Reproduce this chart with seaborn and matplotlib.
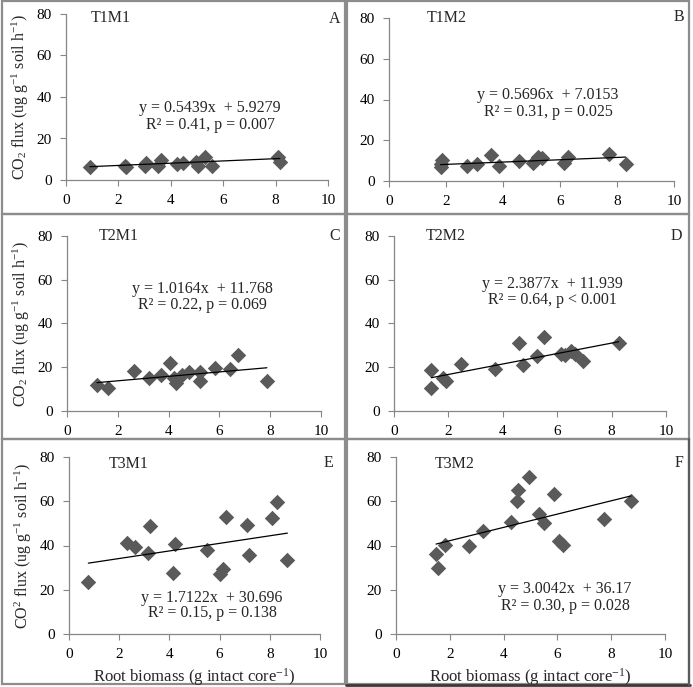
import matplotlib
matplotlib.use("Agg")
import matplotlib.pyplot as plt
import seaborn as sns
import numpy as np
import pandas as pd
from matplotlib.patches import Rectangle
from matplotlib.lines import Line2D

# ---------------- data ----------------
panel_ids = ["A", "B", "C", "D", "E", "F"]
panel_titles = ["T1M1", "T1M2", "T2M1", "T2M2", "T3M1", "T3M2"]

x_A = [0.91, 2.25, 2.30, 3.01, 3.07, 3.52, 3.62, 4.22, 4.47, 4.98, 5.04, 5.30, 5.59, 8.09, 8.16]
y_A = [6.4, 6.9, 6.5, 6.9, 8.0, 6.9, 9.4, 7.7, 8.4, 8.9, 6.9, 11.0, 6.9, 11.0, 8.9]

x_B = [1.81, 1.85, 1.81, 2.75, 3.10, 3.57, 3.86, 4.56, 5.05, 5.24, 5.38, 6.14, 6.29, 7.72, 8.30]
y_B = [8.4, 10.3, 7.0, 7.5, 8.4, 12.8, 7.5, 10.0, 8.7, 12.0, 11.1, 8.7, 11.6, 13.3, 8.4]

x_C = [1.18, 1.61, 2.62, 3.22, 3.71, 4.07, 4.20, 4.30, 4.53, 4.79, 5.25, 5.25, 5.84, 6.40, 6.72, 7.87]
y_C = [11.9, 10.4, 18.5, 15.0, 16.5, 21.9, 15.0, 12.7, 16.5, 17.7, 18.0, 13.5, 19.6, 19.3, 25.7, 13.9]

x_D = [1.37, 1.37, 1.80, 1.92, 2.47, 3.70, 4.61, 4.74, 5.25, 5.53, 6.14, 6.27, 6.51, 6.67, 6.94, 8.26]
y_D = [18.6, 10.4, 14.9, 13.7, 21.3, 19.1, 31.3, 20.9, 25.2, 33.8, 26.2, 25.5, 27.4, 26.2, 22.9, 31.3]

x_E = [0.77, 2.30, 2.63, 3.16, 3.23, 4.16, 4.22, 5.51, 6.02, 6.15, 6.24, 7.08, 7.18, 8.07, 8.27, 8.70]
y_E = [23.6, 41.1, 39.1, 36.5, 48.9, 27.7, 40.6, 38.0, 27.0, 29.2, 52.7, 49.2, 35.6, 52.3, 59.8, 33.5]

x_F = [1.49, 1.55, 1.83, 2.70, 3.25, 4.27, 4.48, 4.52, 4.93, 5.32, 5.51, 5.88, 6.06, 6.19, 7.74, 8.73]
y_F = [36.0, 29.9, 40.4, 39.8, 46.6, 50.8, 60.2, 65.2, 70.9, 54.1, 50.3, 63.3, 41.9, 40.4, 51.8, 60.2]

slopes = [0.5439, 0.5696, 1.0164, 2.3877, 1.7122, 3.0042]
intercepts = [5.9279, 7.0153, 11.768, 11.939, 30.696, 36.17]
eq_lines = ["y = 0.5439x  + 5.9279", "y = 0.5696x  + 7.0153", "y = 1.0164x  + 11.768",
            "y = 2.3877x  + 11.939", "y = 1.7122x  + 30.696", "y = 3.0042x  + 36.17"]
stat_lines = ["R\u00b2 = 0.41, p = 0.007", "R\u00b2 = 0.31, p = 0.025", "R\u00b2 = 0.22, p = 0.069",
              "R\u00b2 = 0.64, p < 0.001", "R\u00b2 = 0.15, p = 0.138", "R\u00b2 = 0.30, p = 0.028"]

xs = [x_A, x_B, x_C, x_D, x_E, x_F]
ys = [y_A, y_B, y_C, y_D, y_E, y_F]

x_ticks = [0, 2, 4, 6, 8, 10]
y_ticks = [0, 20, 40, 60, 80]

ylabel_12 = "CO$_2$ flux (ug g$^{-1}$ soil h$^{-1}$)"
ylabel_3 = "CO$^2$ flux (ug g$^{-1}$ soil h$^{-1}$)"
xlabel = "Root biomass (g intact core$^{-1}$)"

# ---------------- layout (pixels) ----------------
W, H = 693, 687
ax_px = [(66, 14, 328, 180), (389, 18, 674, 181),
         (67, 236, 321, 411), (394, 236, 666, 411),
         (69, 457, 320, 634), (396, 457, 665, 634)]
frame_px = [(2, 1, 345, 214), (347, 1, 689, 214),
            (2, 214, 345, 439), (347, 214, 689, 439),
            (2, 439, 345, 684), (347, 439, 689, 684)]
title_px = [(111, 18), (447, 18), (119, 236), (446, 236), (129, 464), (455, 464)]
letter_px = [(335, 19), (679, 17), (335, 236), (676, 236), (328, 463), (679, 463)]
eq_px = [(210, 108, 125), (548, 95, 112), (202, 289, 305), (552, 284, 300),
         (212, 598, 613), (565, 589, 606)]

sns.set_theme(style="white")
plt.rcParams["font.family"] = ["Liberation Serif", "DejaVu Serif"]
plt.rcParams["mathtext.fontset"] = "custom"
plt.rcParams["mathtext.rm"] = "Liberation Serif"
plt.rcParams["mathtext.it"] = "Liberation Serif:italic"

fig = plt.figure(figsize=(W / 100, H / 100), dpi=100)
fig.patch.set_facecolor("white")

def fx(px):
    return px / W

def fy(py):
    return 1 - py / H

spine_col = "#868686"
marker_col = "#5a5a5a"
fs = 11.5

for i in range(6):
    l, t, r, b = frame_px[i]
    fig.add_artist(Rectangle((fx(l), fy(b)), fx(r) - fx(l), fy(t) - fy(b),
                             transform=fig.transFigure, fill=False,
                             edgecolor="#8c8c8c", linewidth=1.6, zorder=0))

    l, t, r, b = ax_px[i]
    ax = fig.add_axes([fx(l), fy(b), fx(r) - fx(l), fy(t) - fy(b)])
    df = pd.DataFrame({"x": xs[i], "y": ys[i]})
    sns.scatterplot(data=df, x="x", y="y", ax=ax, marker="D", s=62,
                    color=marker_col, edgecolor=marker_col, linewidth=0, zorder=3)
    xl = np.array([min(xs[i]), max(xs[i])])
    line_df = pd.DataFrame({"x": xl, "y": slopes[i] * xl + intercepts[i]})
    sns.lineplot(data=line_df, x="x", y="y", ax=ax, color="black", linewidth=0.9, zorder=4)

    ax.set_xlim(0, 10)
    ax.set_ylim(0, 80)
    ax.set_xticks(x_ticks)
    ax.set_yticks(y_ticks)
    ax.tick_params(axis="both", which="both", direction="out", length=4, width=0.8,
                   color=spine_col, labelsize=11, labelcolor="black", pad=6, left=True, bottom=True)
    for s in ["top", "right"]:
        ax.spines[s].set_visible(False)
    for s in ["left", "bottom"]:
        ax.spines[s].set_color(spine_col)
        ax.spines[s].set_linewidth(0.9)
    ax.set_facecolor("none")

    if i in (0, 2):
        ax.set_ylabel(ylabel_12, fontsize=11.5, labelpad=4)
    elif i == 4:
        ax.set_ylabel(ylabel_3, fontsize=11.5, labelpad=4)
    else:
        ax.set_ylabel("")
    if i in (4, 5):
        ax.set_xlabel(xlabel, fontsize=12, labelpad=4)
    else:
        ax.set_xlabel("")

    tx, ty = title_px[i]
    fig.text(fx(tx), fy(ty), panel_titles[i], fontsize=11.5, ha="center", va="center")
    lx, ly = letter_px[i]
    fig.text(fx(lx), fy(ly), panel_ids[i], fontsize=11.5, ha="center", va="center")
    ex, e1, e2 = eq_px[i]
    fig.text(fx(ex), fy(e1), eq_lines[i], fontsize=fs, ha="center", va="center")
    fig.text(fx(ex), fy(e2), stat_lines[i], fontsize=fs, ha="center", va="center")

# darker bottom edge of the last panel frame, as in the reference
fig.add_artist(Line2D([fx(346), fx(690)], [fy(684.5), fy(684.5)], transform=fig.transFigure,
                      color="#3a3a3a", linewidth=2.0, zorder=1))
fig.add_artist(Line2D([fx(689), fx(689)], [fy(439), fy(685)], transform=fig.transFigure,
                      color="#5a5a5a", linewidth=1.6, zorder=1))

fig.savefig("out.png", dpi=100, facecolor="white")
